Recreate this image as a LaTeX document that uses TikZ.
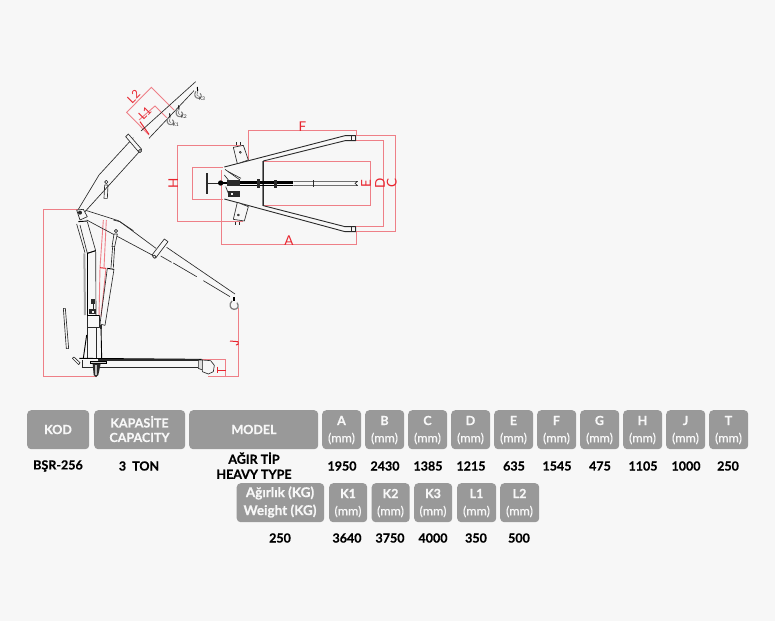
\documentclass[tikz,border=0pt]{standalone}
\usepackage{fontspec}
\setmainfont{Lato}[BoldFeatures={FakeBold=0.5}]
\newfontfamily\mmfont{Lato}[FakeBold=0.25]
\definecolor{bgc}{HTML}{F7F7F7}
\definecolor{cellc}{HTML}{999999}
\definecolor{redl}{HTML}{EE7F87}
\definecolor{redt}{HTML}{E8252F}
\definecolor{inkc}{HTML}{2A2A2A}
\tikzset{
  x=1pt,y=-1pt,
  dimline/.style={draw=redl,line width=.9pt,line join=miter},
  dimbold/.style={draw=redt,line width=1pt},
  dimlabel/.style={text=redt,font=\fontsize{13.5}{13.5}\selectfont,inner sep=0pt},
  boomlabel/.style={text=redt,font=\fontsize{11.5}{12}\selectfont,inner sep=0pt,rotate=45},
  ink/.style={draw=inkc,line width=.65pt,line join=round},
  heavy ink/.style={draw=black,line width=.9pt},
  zoomA/.style={shift={(30,70)},x=.33333pt,y=-.33333pt},
  zoomB/.style={shift={(30,220)},x=.33333pt,y=-.33333pt},
  zoomC/.style={shift={(165,115)},x=.33333pt,y=-.33333pt},
  cell/.style={fill=cellc,rounded corners=4pt,text=bgc,align=center,inner sep=0pt,anchor=north west,
     font=\bfseries\fontsize{12.5}{15}\selectfont},
  val/.style={text=black,align=center,inner sep=0pt,font=\bfseries\fontsize{12.5}{15}\selectfont},
  kmark/.style={text=inkc,inner sep=0pt,font=\fontsize{5}{5}\selectfont},
  pics/hookmark/.style={code={
    \draw[draw=black,line width=1pt] (-1,-22) -- (0,-9);
    \draw[draw=inkc!60,line width=1.1pt] (-5,-9) .. controls (-13,1) and (-7,12) .. (2,12) .. controls (11,12) and (14,3) .. (7,-3);
    \draw[draw=inkc!60,line width=.6pt] (0,-7) .. controls (-5,0) and (-2,6) .. (3,6);
  }}
}
\newcommand{\mmcell}[5]{\node[cell,minimum width=#3pt,minimum height=39pt] (#1) at (#2,#4) {};
  \node[text=bgc,inner sep=0pt,font=\bfseries\fontsize{12.5}{15}\selectfont] (#1t) at (#2+#3/2,#4+10.5) {#5};
  \node[text=bgc,inner sep=0pt,font=\mmfont\fontsize{12.5}{15}\selectfont] (#1m) at (#2+#3/2,#4+28.5) {(mm)};}
\begin{document}
\begin{tikzpicture}
\useasboundingbox[fill=bgc] (0,0) rectangle (775,621);

% ---------- side view, raised jib ----------
\begin{scope}[zoomA]
  \draw[dimline] (357,195) -- (290,127) -- (364,52) -- (432,120);
  \draw[dimline] (327,150) -- (375,108) -- (410,143);
  \draw[dimbold] (330,155) -- (357,193);
  \node[boomlabel] (ltwo) at (311,80) {L2};
  \node[boomlabel] (lone) at (345,129) {L1};
  \draw[dimline] (145,418) -- (40,418) -- (40,600);
  \draw[dimline] (442,226) -- (620,226);
  \draw[ink] (145,418) -- (207,315) -- (310,203);
  \draw[ink] (333,183) -- (497,35);
  \draw[ink] (165,425) -- (330,243);
  \draw[ink] (357,205) -- (492,62);
  \draw[ink,fill=bgc] (287,200) -- (295,192) -- (335,238) -- (327,247) -- cycle;
  \draw[ink,fill=bgc] (330,243) circle (5);
  \draw[ink] (224,345) -- (222,385) -- (232,385) -- (234,345) -- cycle;
  \draw[ink,fill=bgc] (229,336) circle (5);
  \fill[inkc] (150,428) circle (6);
  \draw[ink] (140,420) -- (160,418) -- (172,440) -- (150,450) -- cycle;
  \draw[ink] (167,421) -- (265,452) -- (310,482);
  \pic at (420,152) {hookmark};
  \pic at (447,128) {hookmark};
  \pic at (503,73) {hookmark};
  \node[kmark] (kone) at (437,165) {K1};
  \node[kmark] (ktwo) at (461,141) {K2};
  \node[kmark] (kthree) at (516,85) {K3};
\end{scope}

% ---------- side view, lower jib, mast and base ----------
\begin{scope}[zoomB]
  % red dimensions
  \draw[dimline] (40,0) -- (40,470) -- (200,470);
  \draw[dimline] (625,265) -- (625,470) -- (535,470);
  \draw[dimline] (515,418) -- (587,418) -- (587,470);
  \draw[dimline] (220,0) -- (210,143) -- (207,290);
  \draw[dimline] (229,0) -- (222,143);
  \draw[dimbold] (210,143) -- (228,145);
  \draw[dimline] (228,145) -- (213,290);
  \draw[dimbold] (563,440) -- (563,460);
  \draw[dimbold] (563,450) -- (587,450);
  \draw[dimbold] (600,363) -- (624,365);
  \draw[dimbold] (624,365) -- (624,373) -- (618,375);
  % jib
  \draw[ink] (170,0) -- (372,108);
  \draw[ink] (392,108) -- (425,127);
  \draw[ink] (430,129) -- (500,170);
  \draw[ink] (520,182) -- (600,230);
  \draw[ink] (250,0) -- (270,5) -- (378,85);
  \draw[ink] (410,82) -- (615,222);
  \draw[ink,fill=bgc] (366,105) -- (403,57) -- (414,65) -- (377,114) -- cycle;
  \draw[ink,fill=bgc] (373,110) circle (5);
  % hook
  \draw[draw=black,line width=1.4pt] (612,232) -- (612,243);
  \draw[draw=inkc!60,line width=1.3pt] (606,243) .. controls (596,252) and (600,268) .. (612,268) .. controls (624,268) and (628,258) .. (621,248);
  % mast head
  \draw[heavy ink] (145,5) -- (172,3);
  \draw[ink] (140,12) -- (165,98);
  \draw[ink] (150,15) -- (172,100) -- (197,92) -- (172,5);
  \draw[heavy ink] (172,100) -- (197,92);
  % mast
  \draw[draw=gray!70,line width=2pt] (163,100) -- (165,285);
  \draw[heavy ink] (171,100) -- (171,285);
  \draw[ink] (197,92) -- (198,287);
  % jack
  \fill[inkc] (184,238) rectangle (196,252);
  \fill[inkc] (188,252) rectangle (193,268);
  \fill[inkc] (178,268) rectangle (198,282);
  \fill[bgc] (186,272) rectangle (192,278);
  \draw[ink,fill=bgc] (172,287) rectangle (208,322);
  \draw[heavy ink] (172,287) -- (208,287);
  \draw[ink] (172,322) -- (172,415);
  \draw[ink] (200,322) -- (200,415);
  \draw[heavy ink] (213,318) -- (215,415);
  \draw[heavy ink] (170,345) -- (160,415);
  % cylinder
  \draw[ink,fill=bgc] (252,42) -- (246,80) -- (254,80) -- (262,42) -- cycle;
  \draw[ink,fill=bgc] (258,33) circle (5);
  \draw[ink] (248,80) -- (243,143);
  \draw[ink] (254,80) -- (250,143);
  \draw[heavy ink] (232,145) -- (252,148);
  \draw[ink] (232,145) -- (210,312);
  \draw[ink] (252,148) -- (225,316);
  \draw[ink] (210,312) -- (225,316);
  \fill[inkc] (209,316) rectangle (216,327);
  % loose handle
  \draw[ink] (100,265) -- (106,265) -- (116,386) -- (109,386) -- cycle;
  % base
  \draw[heavy ink] (148,415) -- (515,418);
  \draw[ink] (155,443) -- (505,443);
  \draw[ink] (157,420) -- (157,443);
  \draw[ink,fill=gray!25] (205,418) rectangle (505,421);
  \draw[ink,fill=gray!25] (505,420) -- (505,445) -- (517,450) -- (517,420) -- cycle;
  \draw[ink,fill=bgc] (517,420) -- (542,422) -- (553,436) -- (550,455) -- (535,462) -- (517,455) -- cycle;
  \draw[ink] (127,415) -- (132,411) -- (150,428) -- (146,434) -- cycle;
  \draw[heavy ink,fill=gray!40] (182,423) rectangle (228,431);
  \fill[inkc] (188,431) -- (212,431) -- (205,465) -- (198,471) -- (191,465) -- cycle;
  \fill[gray!50] (196,436) rectangle (200,466);
\end{scope}

% ---------- top view ----------
\begin{scope}[zoomC]
  \draw[dimline] (250,135) -- (250,46) -- (575,46) -- (575,60);
  \draw[dimline] (170,165) -- (170,388) -- (575,388) -- (575,350);
  \draw[dimline] (235,92) -- (37,92) -- (37,320) -- (235,320);
  \draw[dimline] (175,156) -- (82,156) -- (82,254) -- (175,254);
  \draw[dimline] (295,140) -- (615,140) -- (615,270) -- (295,270);
  \draw[dimline] (570,76) -- (655,76) -- (655,333) -- (565,333);
  \draw[dimline] (570,61) -- (692,61) -- (692,349) -- (570,349);
  \node[dimlabel] (dimF) at (412,34) {F};
  \node[dimlabel] (dimA) at (372,377) {A};
  \node[dimlabel,rotate=90] (dimH) at (25,205) {H};
  \node[dimlabel,rotate=90] (dimE) at (603,206) {E};
  \node[dimlabel,rotate=90] (dimD) at (645,204) {D};
  \node[dimlabel,rotate=90] (dimC) at (680,205) {C};
  % frame
  \draw[ink,line width=.9pt] (178,156) -- (540,62) -- (572,62) -- (572,77) -- (540,77) -- (295,138);
  \draw[ink,line width=.9pt] (178,252) -- (540,350) -- (572,350) -- (572,335) -- (540,335) -- (295,272);
  \draw[ink] (558,62) -- (558,77);
  \draw[ink] (558,335) -- (558,350);
  \draw[ink,draw=gray] (292,138) -- (292,272);
  \draw[ink] (296,138) -- (296,272);
  % plates
  \draw[ink,fill=bgc] (205,97) -- (235,91) -- (250,135) -- (217,146) -- cycle;
  \draw[ink,fill=bgc] (205,313) -- (217,262) -- (250,275) -- (238,318) -- cycle;
  \draw[ink] (214,91) -- (214,82);
  \draw[ink] (225,90) -- (225,82);
  \draw[ink] (212,320) -- (212,330);
  \draw[ink] (222,320) -- (222,330);
  \draw[ink] (226,112) circle (3);
  \draw[ink] (220,300) circle (3);
  % handle and rod
  \draw[draw=inkc,line width=1.7pt] (125,175) -- (125,237);
  \draw[ink] (125,204) -- (165,204);
  \draw[draw=black,line width=1.8pt] (165,204) -- (385,204);
  \draw[draw=black,line width=.7pt] (225,198) -- (385,198);
  \draw[draw=black,line width=.7pt] (225,211) -- (385,211);
  \draw[ink] (385,199) -- (578,199) -- (570,205) -- (578,212) -- (385,212);
  \draw[ink] (445,195) -- (445,216);
  \fill[black] (167,204) circle (8);
  \fill[inkc] (185,196) rectangle (225,212);
  \fill[inkc] (276,193) rectangle (285,218);
  \fill[inkc] (326,194) rectangle (335,219);
  % mechanism
  \draw[ink] (180,163) -- (225,195);
  \draw[ink] (190,170) -- (228,190);
  \draw[ink] (178,180) -- (190,195);
  \fill[inkc] (190,228) rectangle (224,245);
  \fill[bgc] (197,233) rectangle (205,240);
  \draw[ink] (182,215) -- (190,235);
\end{scope}

% ---------- table, first row ----------
\node[cell,minimum width=62pt,minimum height=39pt] (kod) at (27,410) {};
\node[text=bgc,inner sep=0pt,font=\bfseries\fontsize{12.5}{15}\selectfont] (kodt) at (58,429.5) {KOD};
\node[cell,minimum width=91pt,minimum height=39pt] (kap) at (94,410) {};
\node[text=bgc,inner sep=0pt,align=center,font=\bfseries\fontsize{12.5}{14.5}\selectfont] (kapt) at (139.5,429) {KAPASİTE\\CAPACITY};
\node[cell,minimum width=129pt,minimum height=39pt] (mod) at (189,410) {};
\node[text=bgc,inner sep=0pt,font=\bfseries\fontsize{12.5}{15}\selectfont] (modt) at (254,429.5) {MODEL};
\mmcell{ca}{322}{39}{410}{A}
\mmcell{cb}{365}{39}{410}{B}
\mmcell{cc}{408}{39}{410}{C}
\mmcell{cd}{451}{39}{410}{D}
\mmcell{ce}{494}{39}{410}{E}
\mmcell{cf}{537}{39}{410}{F}
\mmcell{cg}{580}{39}{410}{G}
\mmcell{ch}{623}{39}{410}{H}
\mmcell{cj}{666}{39}{410}{J}
\mmcell{ct}{709}{39}{410}{T}
% values
\node[val] (vkod) at (58,466) {BŞR-256};
\node[val] (vkap) at (139,466) {3\ \ TON};
\node[val] (vmod) at (254,465.5) {AĞIR TİP\\HEAVY TYPE};
\node[val] (va) at (342,466) {1950};
\node[val] (vb) at (385,466) {2430};
\node[val] (vc) at (428,466) {1385};
\node[val] (vd) at (471,466) {1215};
\node[val] (ve) at (514,466) {635};
\node[val] (vf) at (557,466) {1545};
\node[val] (vg) at (600,466) {475};
\node[val] (vh) at (643,466) {1105};
\node[val] (vj) at (686,466) {1000};
\node[val] (vt) at (728,466) {250};
% second row
\node[cell,minimum width=87.5pt,minimum height=39pt] (wgt) at (236.5,483) {};
\node[text=bgc,inner sep=0pt,align=center,font=\bfseries\fontsize{13.5}{18}\selectfont] (wgtt) at (280,502) {Ağırlık (KG)\\Weight (KG)};
\mmcell{ko}{329}{38}{483}{K1}
\mmcell{kt}{371.5}{38}{483}{K2}
\mmcell{kh}{414}{38}{483}{K3}
\mmcell{lo}{457}{39}{483}{L1}
\mmcell{lt}{500}{39}{483}{L2}
\node[val] (vw) at (280,538) {250};
\node[val] (vko) at (347,538) {3640};
\node[val] (vkt) at (390,538) {3750};
\node[val] (vkh) at (433,538) {4000};
\node[val] (vlo) at (476,538) {350};
\node[val] (vlt) at (519,538) {500};
\end{tikzpicture}
\end{document}
